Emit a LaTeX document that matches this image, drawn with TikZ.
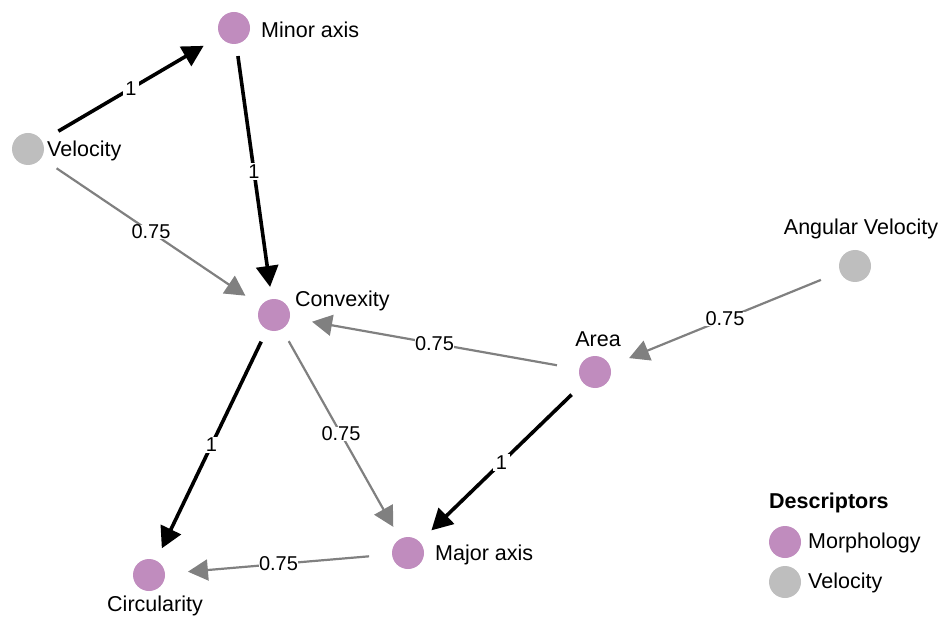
\documentclass[tikz,border=0pt]{standalone}
\usepackage{fontspec}
\setmainfont{Liberation Sans}
\usetikzlibrary{arrows.meta,shapes.geometric}
\definecolor{morph}{RGB}{192,140,190}
\definecolor{velo}{RGB}{190,190,190}
\definecolor{edgegray}{RGB}{128,128,128}
\tikzset{
  dot/.style={circle,minimum size=32pt,inner sep=0pt,draw=none},
  morphdot/.style={dot,fill=morph},
  velodot/.style={dot,fill=velo},
  hull/.style={ellipse,minimum width=78pt,minimum height=56pt,inner sep=0pt,draw=none},
  lbl/.style={font=\fontsize{21.5}{25}\selectfont,inner sep=0pt},
  elbl/.style={font=\fontsize{20}{23}\selectfont,text=black,fill=white,inner xsep=0.5pt,inner ysep=0pt,pos=0.5},
  onelbl/.style={elbl,inner xsep=2.5pt,inner ysep=1.5pt},
  strong/.style={line width=3.6pt,black,-{Triangle[length=21pt,width=22pt]}},
  weak/.style={line width=2.2pt,edgegray,-{Triangle[length=20pt,width=21pt]}}
}
\begin{document}
\begin{tikzpicture}[x=1pt,y=-1pt]
\useasboundingbox (0,0) rectangle (941,617);
% node hulls
\node[hull] (minor) at (234,28) {};
\node[hull] (vel) at (28,149) {};
\node[hull] (conv) at (274,315) {};
\node[hull] (ang) at (855,266) {};
\node[hull] (area) at (595,372) {};
\node[hull] (major) at (408,553) {};
\node[hull] (circ) at (149,575) {};
% dots
\node[morphdot] (minord) at (minor) {};
\node[velodot] (veld) at (vel) {};
\node[morphdot] (convd) at (conv) {};
\node[velodot] (angd) at (ang) {};
\node[morphdot] (aread) at (area) {};
\node[morphdot] (majord) at (major) {};
\node[morphdot] (circd) at (circ) {};
% labels
\node[lbl,anchor=west] (minorl) at (261,30) {Minor axis};
\node[lbl,anchor=west] (vell) at (47,151) {Velocity};
\node[lbl,anchor=west] (convl) at (295,301) {Convexity};
\node[lbl] (angl) at (861,229) {Angular Velocity};
\node[lbl] (areal) at (598,339) {Area};
\node[lbl,anchor=west] (majorl) at (435,555) {Major axis};
\node[lbl] (circl) at (155,606) {Circularity};
% edges
\draw[strong] (vel) -- node[onelbl] (e1) {1} (minor);
\draw[strong] (minor) -- node[onelbl] (e2) {1} (conv);
\draw[weak] (vel) -- node[elbl] (e3) {0.75} (conv);
\draw[weak] (ang) -- node[elbl] (e4) {0.75} (area);
\draw[weak] (area) -- node[elbl] (e5) {0.75} (conv);
\draw[strong] (conv) -- node[onelbl] (e6) {1} (circ);
\draw[weak] (conv) -- node[elbl] (e7) {0.75} (major);
\draw[strong] (area) -- node[onelbl] (e8) {1} (major);
\draw[weak] (major) -- node[elbl] (e9) {0.75} (circ);
% legend
\node[lbl,anchor=west,font=\fontsize{21.5}{25}\selectfont\bfseries] (legt) at (769,503) {Descriptors};
\node[morphdot] (legm) at (785,542) {};
\node[velodot] (legv) at (785,582) {};
\node[lbl,anchor=west] (legml) at (808,543) {Morphology};
\node[lbl,anchor=west] (legvl) at (808,583) {Velocity};
\end{tikzpicture}
\end{document}
